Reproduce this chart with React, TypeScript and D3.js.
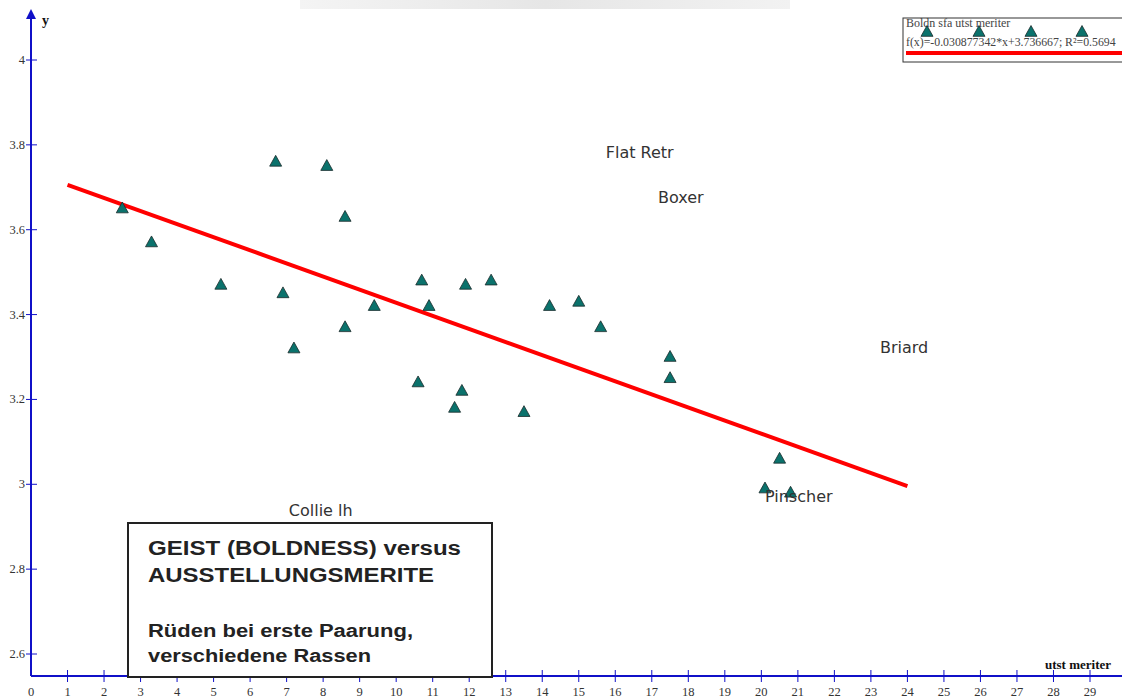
import { useMemo } from "react"
import * as d3 from "d3"

// data: utst meriter (x) vs Boldn sfa (y)
const meriter = [2.5, 3.3, 5.2, 6.7, 6.9, 7.2, 8.1, 8.6, 8.6, 9.4, 10.6, 10.7, 10.9, 11.6, 11.8, 11.9, 12.6, 13.5, 14.2, 15.0, 15.6, 17.5, 17.5, 20.5, 20.1, 20.8]
const boldness = [3.65, 3.57, 3.47, 3.76, 3.45, 3.32, 3.75, 3.63, 3.37, 3.42, 3.24, 3.48, 3.42, 3.18, 3.22, 3.47, 3.48, 3.17, 3.42, 3.43, 3.37, 3.30, 3.25, 3.06, 2.99, 2.98]

const xTicks = d3.range(0, 30)
const yTicks = [2.6, 2.8, 3, 3.2, 3.4, 3.6, 3.8, 4]

const slope = -0.030877342
const intercept = 3.736667
const fitRange = [1, 24]

const breedNames = ["Flat Retr", "Boxer", "Briard", "Pinscher", "Collie lh"]
const breedX = [15.74, 17.17, 23.25, 20.1, 7.06]
const breedY = [3.769, 3.663, 3.309, 2.958, 2.925]

const legendTitle = "Boldn sfa utst meriter"
const legendFormula = "f(x)=-0.030877342*x+3.736667; R²=0.5694"

const W = 1122
const H = 700
const AXIS = "#1010c8"

function tri(cx: number, cy: number, s = 12) {
  const h = s * 0.9
  return `M${cx},${cy - h * 0.6}L${cx + s / 2},${cy + h * 0.4}L${cx - s / 2},${cy + h * 0.4}Z`
}

export default function App() {
  const x = useMemo(() => d3.scaleLinear().domain([0, 29]).range([31, 1090]), [])
  const y = useMemo(() => d3.scaleLinear().domain([2.6, 4]).range([654, 60]), [])
  const x0 = x(0)
  const yBase = 676

  const fitLine = d3
    .line<number>()
    .x((d) => x(d))
    .y((d) => y(intercept + slope * d))(fitRange)

  return (
    <svg width={W} height={H} style={{ position: "absolute", left: 0, top: 0, background: "#fff" }}>
      <defs>
        <linearGradient id="wm" x1="0" x2="1" y1="0" y2="0">
          <stop offset="0" stopColor="#f4f4f4" />
          <stop offset="0.5" stopColor="#e6e6e6" />
          <stop offset="1" stopColor="#f2f2f2" />
        </linearGradient>
      </defs>
      {/* faint watermark strip at the top */}
      <rect x={300} y={0} width={490} height={9} fill="url(#wm)" />

      {/* regression line */}
      <path d={fitLine ?? ""} stroke="#ff0000" strokeWidth={4} fill="none" />

      {/* points */}
      {meriter.map((m, i) => (
        <path key={i} d={tri(x(m), y(boldness[i]))} fill="#0b726c" stroke="#1b2b2b" strokeWidth={0.8} />
      ))}

      {/* breed labels */}
      {breedNames.map((n, i) => (
        <text key={n} x={x(breedX[i])} y={y(breedY[i])} fontFamily="DejaVu Sans" fontSize={16} fill="#333">
          {n}
        </text>
      ))}

      {/* axes */}
      <line x1={x0} x2={W} y1={yBase} y2={yBase} stroke={AXIS} strokeWidth={2} />
      <line x1={x0} x2={x0} y1={yBase} y2={14} stroke={AXIS} strokeWidth={2} />
      <path d={`M${x0},9L${x0 + 5},19L${x0 - 5},19Z`} fill={AXIS} />
      {xTicks.map((t) => (
        <g key={t}>
          {t > 0 && <line x1={x(t)} x2={x(t)} y1={yBase - 6} y2={yBase + 6} stroke={AXIS} strokeWidth={1} />}
          <text x={x(t)} y={696} textAnchor="middle" fontFamily="Liberation Serif" fontSize={12.5} fill="#333">
            {t}
          </text>
        </g>
      ))}
      {yTicks.map((t) => (
        <g key={t}>
          <line x1={x0 - 5} x2={x0 + 6} y1={y(t)} y2={y(t)} stroke={AXIS} strokeWidth={1} />
          <text x={x0 - 6} y={y(t) + 4} textAnchor="end" fontFamily="Liberation Serif" fontSize={12.5} fill="#333">
            {t}
          </text>
        </g>
      ))}
      <text x={42} y={25} fontFamily="Liberation Serif" fontWeight="bold" fontSize={14} fill="#111">
        y
      </text>
      <text x={1045} y={669} fontFamily="Liberation Serif" fontWeight="bold" fontSize={13} fill="#111">
        utst meriter
      </text>

      {/* title box */}
      <rect x={128} y={523} width={364} height={154} fill="#fff" stroke="#222" strokeWidth={2} />
      <g fontFamily="Liberation Sans" fontWeight="bold" fill="#222">
        <text x={148} y={555} fontSize={20} textLength={313} lengthAdjust="spacingAndGlyphs">
          GEIST (BOLDNESS) versus
        </text>
        <text x={148} y={582} fontSize={20} textLength={286} lengthAdjust="spacingAndGlyphs">
          AUSSTELLUNGSMERITE
        </text>
        <text x={148} y={637} fontSize={18} textLength={265} lengthAdjust="spacingAndGlyphs">
          Rüden bei erste Paarung,
        </text>
        <text x={148} y={662} fontSize={18} textLength={223} lengthAdjust="spacingAndGlyphs">
          verschiedene Rassen
        </text>
      </g>

      {/* legend */}
      <rect x={903} y={18} width={240} height={44} fill="#fff" stroke="#333" strokeWidth={1} />
      <text x={906} y={27} fontFamily="Liberation Serif" fontSize={12} fill="#444">
        {legendTitle}
      </text>
      <text x={906} y={46} fontFamily="Liberation Serif" fontSize={11.8} fill="#444">
        {legendFormula}
      </text>
      <line x1={906} x2={W} y1={53} y2={53} stroke="#ff0000" strokeWidth={4} />
      {[927, 979, 1031, 1082].map((lx) => (
        <path key={lx} d={tri(lx, 32)} fill="#0b726c" stroke="#1b2b2b" strokeWidth={0.8} />
      ))}
    </svg>
  )
}
